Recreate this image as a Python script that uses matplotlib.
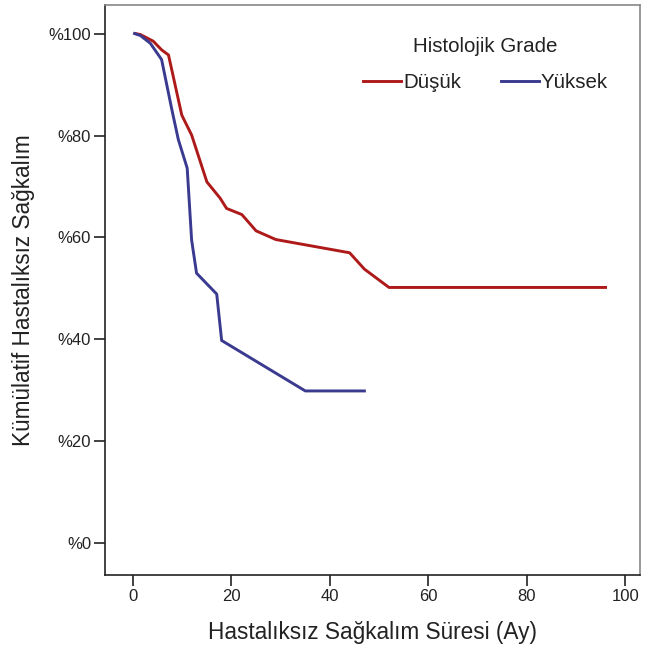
import matplotlib
matplotlib.use("Agg")
import matplotlib.pyplot as plt

plt.rcParams['font.family'] = ['Liberation Sans', 'DejaVu Sans']

# Data (time in months, survival in %)
low_t = [0.5, 1.5, 4.1, 5.8, 7.2, 9.9, 11.9, 15.0, 17.7, 19.0, 22.1, 25.0, 29.0, 44.0, 47.0, 52.0, 96.0]
low_s = [100, 99.8, 98.5, 96.8, 95.8, 84.0, 80.1, 70.9, 67.7, 65.7, 64.5, 61.3, 59.6, 57.0, 53.8, 50.2, 50.2]

high_t = [0.3, 1.5, 3.5, 5.8, 7.9, 9.2, 11.0, 11.9, 12.9, 17.0, 18.0, 35.0, 47.0]
high_s = [100, 99.6, 98.1, 94.9, 85.0, 79.2, 73.6, 59.5, 53.0, 48.9, 39.8, 29.9, 29.9]

xticks = [0, 20, 40, 60, 80, 100]
yticks = [0, 20, 40, 60, 80, 100]
ytick_labels = ['%0', '%20', '%40', '%60', '%80', '%100']

red = '#AE1A1A'
blue = '#3A3A90'
W, H = 645, 653

fig = plt.figure(figsize=(W/100, H/100), dpi=100)
ax = fig.add_axes([105/W, 1 - 575/H, (640-105)/W, (575-5)/H])

ax.plot(low_t, low_s, color=red, lw=2.1, label='Düşük', solid_joinstyle='round')
ax.plot(high_t, high_s, color=blue, lw=2.1, label='Yüksek', solid_joinstyle='round')

ax.set_xlim(-5.7, 103.0)
ax.set_ylim(-6.2, 105.6)
ax.set_xticks(xticks)
ax.set_yticks(yticks)
ax.set_yticklabels(ytick_labels)
ax.tick_params(direction='out', length=8, width=1.2, labelsize=12, colors='#222222', pad=2)
for s in ax.spines.values():
    s.set_linewidth(1.2)
    s.set_color('#222222')
ax.spines['top'].set_color('#888888')
ax.spines['right'].set_color('#888888')

ax.set_xlabel('Hastalıksız Sağkalım Süresi (Ay)', fontsize=16.3, color='#222222', labelpad=12)
ax.set_ylabel('Kümülatif Hastalıksız Sağkalım', fontsize=16.3, color='#222222', labelpad=10)

leg = ax.legend(ncol=2, frameon=False, fontsize=14.8, loc='center left',
                bbox_to_anchor=(363/W, 1 - 83/H), bbox_transform=fig.transFigure,
                borderpad=0, borderaxespad=0,
                handlelength=1.85, handletextpad=0.12, columnspacing=1.9)
for t in leg.get_texts():
    t.set_color('#222222')
fig.text(485/W, 1 - 47/H, 'Histolojik Grade', fontsize=14.8, color='#222222',
         ha='center', va='center')

fig.savefig('out.png', dpi=100)
